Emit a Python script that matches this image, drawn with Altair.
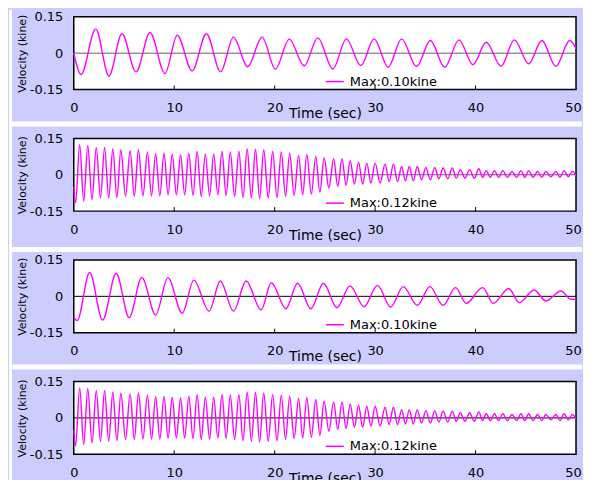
import altair as alt
import pandas as pd

# ---------------- data (extrema) ----------------
t1 = [0, 0.73, 2.18, 3.5, 4.79, 6.2, 7.59, 9.08, 10.3, 11.78, 13.2, 14.62, 15.9, 17.3,
      18.75, 20.07, 21.45, 22.94, 24.29, 25.8, 27.13, 28.58, 29.9, 31.3, 32.64, 34.13,
      35.5, 36.93, 38.35, 39.74, 41.06, 42.54, 43.86, 45.28, 46.6, 47.99, 49.37, 50.0]
v1 = [0, -0.088, 0.100, -0.094, 0.080, -0.077, 0.085, -0.084, 0.074, -0.073, 0.080,
      -0.077, 0.066, -0.056, 0.066, -0.066, 0.058, -0.052, 0.063, -0.065, 0.059, -0.051,
      0.059, -0.058, 0.059, -0.055, 0.052, -0.058, 0.055, -0.047, 0.045, -0.054, 0.055,
      -0.044, 0.052, -0.054, 0.052, 0.02]

t2 = [0.0, 0.18, 0.59, 0.99, 1.39, 1.82, 2.24, 2.66, 3.07, 3.48, 3.89, 4.29, 4.69, 5.15,
      5.61, 6.03, 6.44, 6.89, 7.33, 7.74, 8.15, 8.57, 8.98, 9.39, 9.80, 10.22, 10.63,
      11.04, 11.45, 11.87, 12.28, 12.69, 13.10, 13.52, 13.93, 14.34, 14.75, 15.17, 15.58,
      16.01, 16.44, 16.85, 17.26, 17.68, 18.09, 18.50, 18.91, 19.36, 19.80, 20.23, 20.66,
      21.08, 21.49, 21.94, 22.38, 22.79, 23.20, 23.65, 24.09, 24.50, 24.92, 25.40, 25.87,
      26.28, 26.70, 27.11, 27.52, 27.94, 28.35, 28.76, 29.17, 29.58, 30.00, 30.50, 30.99,
      31.40, 31.82, 32.23, 32.64, 33.02, 33.40, 33.80, 34.19, 34.62, 35.05, 35.50, 35.94,
      36.35, 36.77, 37.23, 37.69, 38.08, 38.48, 38.95, 39.41, 39.87, 40.33, 40.70, 41.06,
      41.47, 41.88, 42.30, 42.71, 43.17, 43.63, 44.08, 44.52, 44.90, 45.28, 45.73, 46.17,
      46.59, 47.00, 47.50, 47.99, 48.40, 48.81, 49.23, 49.64, 50.00]
v2 = [-0.05, -0.115, 0.124, -0.110, 0.121, -0.103, 0.113, -0.096, 0.113, -0.096, 0.107,
      -0.094, 0.103, -0.089, 0.099, -0.089, 0.103, -0.087, 0.094, -0.087, 0.087, -0.087,
      0.089, -0.083, 0.085, -0.083, 0.083, -0.083, 0.089, -0.085, 0.096, -0.089, 0.085,
      -0.087, 0.085, -0.083, 0.096, -0.085, 0.094, -0.089, 0.096, -0.094, 0.107, -0.096,
      0.105, -0.099, 0.103, -0.096, 0.096, -0.094, 0.094, -0.089, 0.089, -0.085, 0.080,
      -0.083, 0.083, -0.080, 0.076, -0.072, 0.069, -0.055, 0.066, -0.048, 0.066, -0.044,
      0.058, -0.039, 0.052, -0.039, 0.048, -0.034, 0.048, -0.034, 0.044, -0.028, 0.044,
      -0.028, 0.034, -0.025, 0.034, -0.025, 0.034, -0.021, 0.030, -0.021, 0.030, -0.017,
      0.028, -0.017, 0.028, -0.014, 0.021, -0.014, 0.021, -0.014, 0.025, -0.011, 0.017,
      -0.011, 0.017, -0.011, 0.017, -0.011, 0.014, -0.011, 0.017, -0.011, 0.017, -0.011,
      0.014, -0.011, 0.014, -0.008, 0.014, -0.011, 0.017, -0.008, 0.014, -0.005]

t3 = [0, 0.33, 1.58, 2.87, 4.22, 5.51, 6.77, 8.15, 9.37, 10.8, 11.95, 13.47, 14.59, 15.9,
      17.16, 18.65, 19.67, 21.12, 22.28, 23.6, 24.85, 26.2, 27.5, 28.9, 30.23, 31.55,
      32.8, 34.2, 35.45, 36.77, 38.0, 39.07, 40.7, 41.77, 43.3, 44.35, 45.83, 47.0, 48.5,
      49.5, 50.0]
v3 = [-0.085, -0.1, 0.098, -0.098, 0.095, -0.088, 0.078, -0.077, 0.077, -0.070, 0.067,
      -0.061, 0.063, -0.061, 0.063, -0.056, 0.056, -0.051, 0.054, -0.051, 0.054, -0.047,
      0.043, -0.043, 0.045, -0.044, 0.040, -0.037, 0.040, -0.037, 0.036, -0.029, 0.036,
      -0.029, 0.032, -0.026, 0.026, -0.019, 0.022, -0.012, -0.012]

t4 = t2
v4 = v2

labels = ["Max:0.10kine", "Max:0.12kine", "Max:0.10kine", "Max:0.12kine"]
x_ticks = [0, 10, 20, 30, 40, 50]
y_ticks = [-0.15, 0, 0.15]
inner_ticks = [10, 20, 30, 40]

# ---------------- styling ----------------
W, H = 504, 73
LAV = "#ccccff"
MAG = "#ff00ff"
FONT = "DejaVu Sans"

XAXIS = alt.Axis(values=x_ticks, grid=False, ticks=False, domain=False,
                 labelFlush=False, labelPadding=12, labelFontSize=13,
                 labelOffset={"condition": {"test": "datum.value == 50", "value": -3},
                              "value": 0},
                 labelColor="black", labelFont=FONT,
                 title="Time (sec)", titleX=252, titleY=24, titleAlign="center",
                 titleBaseline="middle", titleFontSize=14, titleFontWeight="normal",
                 titleColor="black", titleFont=FONT)
YAXIS = alt.Axis(values=y_ticks, grid=False, ticks=False, domain=False,
                 labelFlush=False, labelPadding=11, labelFontSize=13,
                 labelColor="black", labelFont=FONT,
                 labelExpr="datum.value == 0 ? '0' : (datum.value < 0 ? '-' : '') + format(abs(datum.value), '.2f')",
                 title="Velocity (kine)", titleX=-51, titleY=H / 2, titleAngle=270,
                 titleAlign="center", titleBaseline="middle", titleFontSize=11,
                 titleFontWeight="normal", titleColor="black", titleFont=FONT)


def panel(t, v, label, zero_color, strip, gap=None):
    df = pd.DataFrame({"t": t, "v": v, "series": label})
    one = pd.DataFrame({"k": [0]})
    xs = alt.Scale(domain=[0, 50], nice=False, zero=False)
    ys = alt.Scale(domain=[-0.15, 0.15], nice=False)

    layers = []
    # white page strip left of the panel background
    layers.append(alt.Chart(one).mark_rect(fill="white").encode(
        x=alt.value(-65), x2=alt.value(-62),
        y=alt.value(strip[0]), y2=alt.value(H + strip[1])))
    if gap is not None:
        # white separator strip between two panel backgrounds
        layers.append(alt.Chart(one).mark_rect(fill="white").encode(
            x=alt.value(-65), x2=alt.value(W + 6),
            y=alt.value(H + gap[0]), y2=alt.value(H + gap[1])))
    zero = alt.Chart(one).mark_rule(color=zero_color, strokeWidth=1).encode(
        y=alt.Y(datum=0, scale=ys, axis=YAXIS))
    ticks = alt.Chart(pd.DataFrame({"tk": inner_ticks})).mark_rule(
        color="black", strokeWidth=1).encode(
        x=alt.X("tk:Q", scale=xs, axis=XAXIS),
        y=alt.value(H - 4), y2=alt.value(H))
    line = alt.Chart(df).mark_line(interpolate="monotone", strokeWidth=1.4).encode(
        x=alt.X("t:Q", scale=xs, axis=XAXIS),
        y=alt.Y("v:Q", scale=ys, axis=YAXIS),
        color=alt.Color("series:N", scale=alt.Scale(domain=[label], range=[MAG]),
                        legend=alt.Legend(title=None, orient="none", legendX=252, legendY=55,
                                          symbolType="stroke", symbolSize=324,
                                          symbolStrokeWidth=1.5, labelFontSize=13,
                                          labelFont=FONT, labelColor="black",
                                          labelOffset=5, padding=0)))
    layers += [zero, ticks, line]
    return alt.layer(*layers).properties(width=W, height=H)


p1 = panel(t1, v1, labels[0], "#606060", strip=(-7, 37), gap=(32, 37))
p2 = panel(t2, v2, labels[1], "#606060", strip=(-12, 41), gap=(36, 41))
p3 = panel(t3, v3, labels[2], "#000000", strip=(-12, 37), gap=(32, 37))
p4 = panel(t4, v4, labels[3], "#000000", strip=(-12, 31))

chart = alt.vconcat(p1, p2, p3, p4, spacing=49, bounds="flush").resolve_scale(
    color="independent").resolve_legend(color="independent").properties(
    background=LAV,
    padding={"left": 0, "top": 0, "right": 0, "bottom": 0}).configure(
    font=FONT).configure_view(fill="white", stroke="black", strokeWidth=1.5)

chart.save("out.html", embed_options={"renderer": "svg", "actions": False})
